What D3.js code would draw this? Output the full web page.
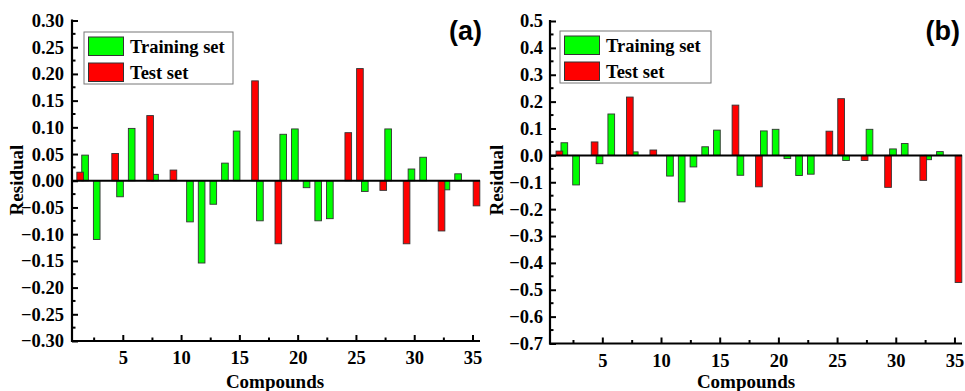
<!DOCTYPE html>
<meta charset="utf-8">
<style>
    body, html {
        margin: 0;
        padding: 0;
        background: #fff;
        overflow: hidden;
    }
    svg text {
        font-family: "Liberation Serif", "Times New Roman", serif !important;
        font-weight: bold;
        fill: #000;
    }
    svg text.letter {
        font-family: "Liberation Sans Narrow", "Liberation Sans", Arial, sans-serif !important;
    }
</style>
<svg width="965" height="391"></svg>
<script src="https://d3js.org/d3.v7.min.js"></script>
<script>
    // compound numbers 1..35, null = no bar for that set
    var compounds = [1, 2, 3, 4, 5, 6, 7, 8, 9, 10, 11, 12, 13, 14, 15, 16, 17, 18,
        19, 20, 21, 22, 23, 24, 25, 26, 27, 28, 29, 30, 31, 32, 33, 34, 35];

    var trainA = [0.048, -0.110, null, -0.030, 0.098, null, 0.012, null, null, -0.077,
        -0.154, -0.044, 0.033, 0.093, null, -0.075, null, 0.087, 0.097, -0.013,
        -0.075, -0.071, null, null, -0.020, null, 0.097, null, 0.022, 0.044,
        null, -0.017, 0.013, null, null];
    var testA = [0.016, null, null, 0.051, null, null, 0.122, null, 0.020, null,
        null, null, null, null, null, 0.187, null, -0.118, null, null,
        null, null, null, 0.090, 0.210, null, -0.018, null, -0.118, null,
        null, -0.094, null, null, -0.047];

    var trainB = [0.047, -0.110, null, -0.031, 0.154, null, 0.013, null, null, -0.077,
        -0.173, -0.043, 0.032, 0.094, null, -0.074, null, 0.091, 0.097, -0.012,
        -0.075, -0.070, null, null, -0.019, null, 0.097, null, 0.024, 0.044,
        null, -0.016, 0.014, null, null];
    var testB = [0.016, null, null, 0.050, null, null, 0.217, null, 0.020, null,
        null, null, null, null, null, 0.187, null, -0.117, null, null,
        null, null, null, 0.090, 0.211, null, -0.019, null, -0.119, null,
        null, -0.093, null, null, -0.473];

    var xTicks = [5, 10, 15, 20, 25, 30, 35];
    var xMinor = [2.5, 7.5, 12.5, 17.5, 22.5, 27.5, 32.5];
    var yTicksA = [-0.30, -0.25, -0.20, -0.15, -0.10, -0.05, 0.00, 0.05, 0.10, 0.15, 0.20, 0.25, 0.30];
    var yTicksB = [-0.7, -0.6, -0.5, -0.4, -0.3, -0.2, -0.1, 0.0, 0.1, 0.2, 0.3, 0.4, 0.5];

    var svg = d3.select("svg");

    function drawPanel(p) {
        var x = d3.scaleLinear().domain(p.xDomain).range([p.left, p.right]);
        var y = d3.scaleLinear().domain(p.yDomain).range([p.bottom, p.top]);
        var g = svg.append("g");
        var barW = x(0.57) - x(0);

        // training first, test on top
        var series = [
            { vals: p.train, off: 0.72, color: "#00ff00" },
            { vals: p.test, off: 0.30, color: "#ff0000" }
        ];
        series.forEach(function (s) {
            var data = compounds.map(function (c, i) { return { c: c, v: s.vals[i] }; })
                .filter(function (d) { return d.v !== null; });
            g.append("g").selectAll("rect")
                .data(data)
                .enter().append("rect")
                .attr("x", function (d) { return x(d.c + s.off) - barW / 2; })
                .attr("width", barW)
                .attr("y", function (d) { return y(Math.max(0, d.v)); })
                .attr("height", function (d) { return Math.abs(y(d.v) - y(0)); })
                .attr("fill", s.color)
                .attr("stroke", "#333")
                .attr("stroke-width", 0.9);
        });

        // zero line
        g.append("line")
            .attr("x1", p.left).attr("x2", p.right)
            .attr("y1", y(0)).attr("y2", y(0))
            .attr("stroke", "#000").attr("stroke-width", 2);

        // y axis, ticks inward
        var yAxis = g.append("g").attr("transform", "translate(" + p.left + ",0)");
        yAxis.call(d3.axisRight(y).tickValues(p.yTicks).tickSize(6).tickFormat(""))
            .call(function (a) { a.select(".domain").remove(); });
        yAxis.selectAll("line").attr("stroke-width", 2);
        var minorY = d3.range(p.yTicks.length - 1).map(function (i) {
            return (p.yTicks[i] + p.yTicks[i + 1]) / 2;
        });
        yAxis.selectAll(".minor")
            .data(minorY)
            .enter().append("line")
            .attr("x1", 0).attr("x2", 3.5)
            .attr("y1", function (d) { return y(d); })
            .attr("y2", function (d) { return y(d); })
            .attr("stroke", "#000").attr("stroke-width", 2);
        yAxis.selectAll(".lbl")
            .data(p.yTicks)
            .enter().append("text")
            .attr("class", "lbl")
            .attr("x", p.labelGap)
            .attr("y", function (d) { return y(d); })
            .attr("dy", "0.35em")
            .attr("text-anchor", "end")
            .attr("font-size", 18.5)
            .text(function (d) { return p.fmt(d); });
        g.append("line")
            .attr("x1", p.left).attr("x2", p.left)
            .attr("y1", p.top - 1).attr("y2", p.bottom + 1)
            .attr("stroke", "#000").attr("stroke-width", 2.2);

        // x axis, ticks inward
        var xAxis = g.append("g").attr("transform", "translate(0," + p.bottom + ")");
        xAxis.selectAll(".maj")
            .data(xTicks)
            .enter().append("line")
            .attr("x1", function (d) { return x(d); })
            .attr("x2", function (d) { return x(d); })
            .attr("y1", 0).attr("y2", -6)
            .attr("stroke", "#000").attr("stroke-width", 2);
        xAxis.selectAll(".min")
            .data(xMinor)
            .enter().append("line")
            .attr("x1", function (d) { return x(d); })
            .attr("x2", function (d) { return x(d); })
            .attr("y1", 0).attr("y2", -3.5)
            .attr("stroke", "#000").attr("stroke-width", 2);
        xAxis.selectAll("text")
            .data(xTicks)
            .enter().append("text")
            .attr("x", function (d) { return x(d); })
            .attr("y", 23)
            .attr("text-anchor", "middle")
            .attr("font-size", 18.5)
            .text(function (d) { return d; });
        g.append("line")
            .attr("x1", p.left - 1).attr("x2", p.right)
            .attr("y1", p.bottom).attr("y2", p.bottom)
            .attr("stroke", "#000").attr("stroke-width", 2.2);

        // axis titles
        g.append("text")
            .attr("x", p.xTitleX).attr("y", 388)
            .attr("text-anchor", "middle")
            .attr("font-size", 19)
            .text("Compounds");
        g.append("text")
            .attr("transform", "translate(" + p.yTitleX + ",180) rotate(-90)")
            .attr("text-anchor", "middle")
            .attr("font-size", 19)
            .text("Residual");

        // panel letter
        g.append("text")
            .attr("class", "letter")
            .attr("x", p.letterX).attr("y", 40)
            .attr("text-anchor", "end")
            .attr("font-size", 27)
            .text(p.letter);

        // legend
        var lg = g.append("g").attr("transform", "translate(" + p.legX + "," + p.legY + ")");
        lg.append("rect")
            .attr("width", p.legW).attr("height", 52)
            .attr("fill", "#fff").attr("stroke", "#777").attr("stroke-width", 1);
        [["Training set", "#00ff00"], ["Test set", "#ff0000"]].forEach(function (e, i) {
            lg.append("rect")
                .attr("x", 4.5).attr("y", 5 + i * 26)
                .attr("width", 35).attr("height", 18.5)
                .attr("fill", e[1]).attr("stroke", "#333").attr("stroke-width", 1);
            lg.append("text")
                .attr("x", 46).attr("y", 21 + i * 25.5)
                .attr("font-size", 18.5)
                .text(e[0]);
        });
    }

    drawPanel({
        train: trainA, test: testA,
        xDomain: [0.6, 35.6], yDomain: [-0.30, 0.30], yTicks: yTicksA,
        left: 72, right: 480, top: 20.5, bottom: 341,
        labelGap: -8, fmt: d3.format(".2f"),
        xTitleX: 275, yTitleX: 23, letter: "(a)", letterX: 482,
        legX: 84, legY: 32, legW: 149
    });

    drawPanel({
        train: trainB, test: testB,
        xDomain: [0.5, 35.6], yDomain: [-0.7, 0.5], yTicks: yTicksB,
        left: 550, right: 962, top: 21, bottom: 343.5,
        labelGap: -7, fmt: d3.format(".1f"),
        xTitleX: 746, yTitleX: 503, letter: "(b)", letterX: 960,
        legX: 560, legY: 31, legW: 151
    });
</script>
